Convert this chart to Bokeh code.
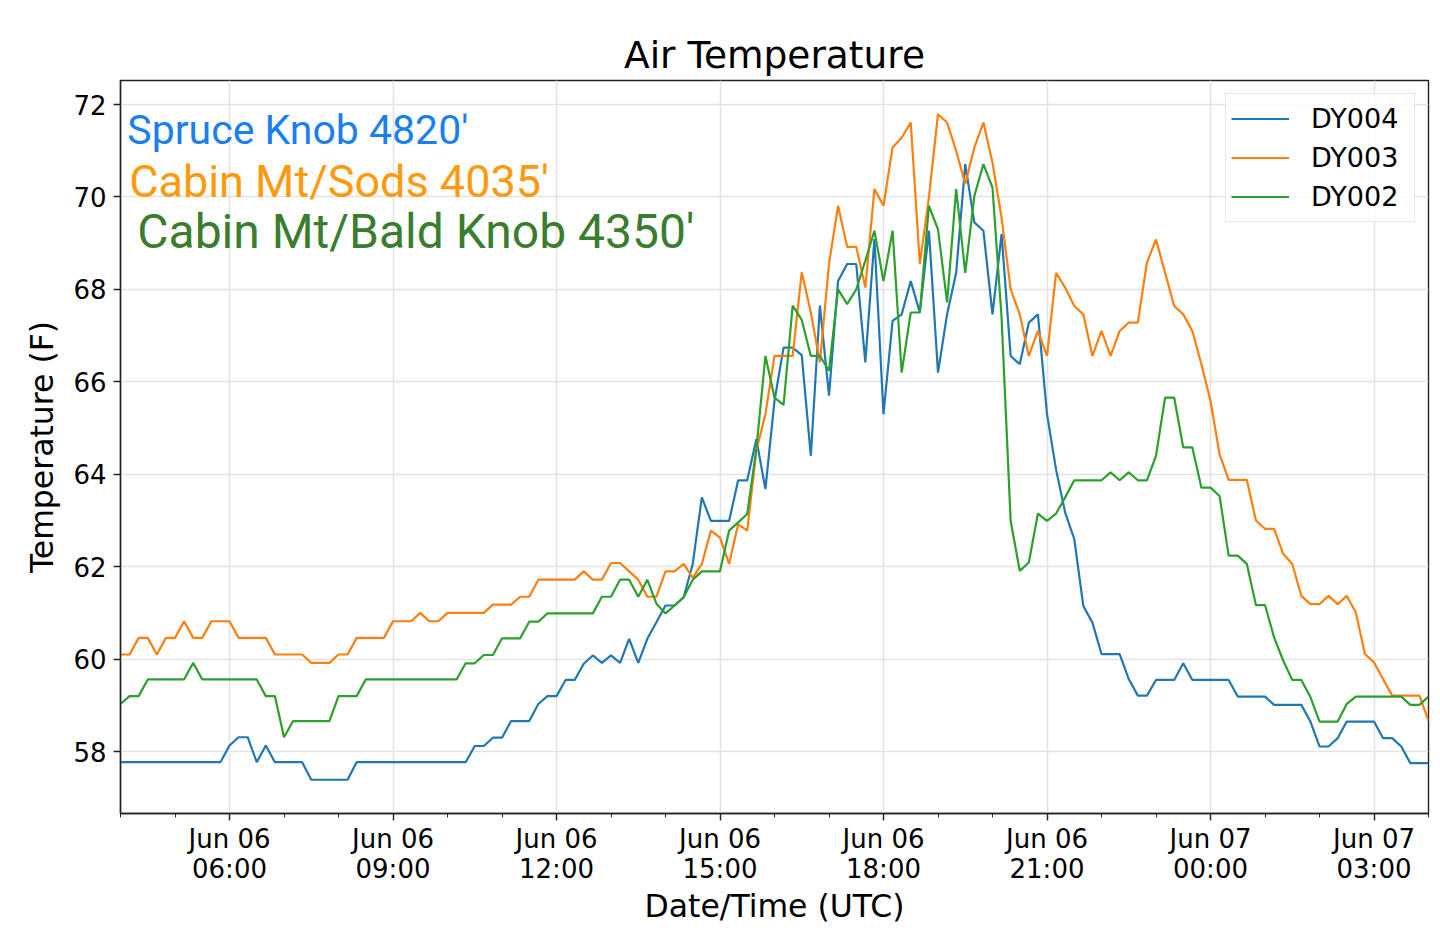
import pandas as pd
from bokeh.plotting import figure
from bokeh.models import (Range1d, FixedTicker, DatetimeTickFormatter, Legend,
                          LegendItem, Label)
from bokeh.embed import file_html
from bokeh.resources import INLINE

# ---------------- data ----------------
times = pd.date_range("2018-06-06 04:00", "2018-06-07 04:00", freq="10min")

dy004 = [
    57.77, 57.77, 57.77, 57.77, 57.77, 57.77, 57.77, 57.77, 57.77, 57.77,
    57.77, 57.77, 58.13, 58.31, 58.31, 57.77, 58.13, 57.77, 57.77, 57.77,
    57.77, 57.39, 57.39, 57.39, 57.39, 57.39, 57.77, 57.77, 57.77, 57.77,
    57.77, 57.77, 57.77, 57.77, 57.77, 57.77, 57.77, 57.77, 57.77, 58.12,
    58.12, 58.30, 58.30, 58.66, 58.66, 58.66, 59.03, 59.20, 59.20, 59.55,
    59.55, 59.90, 60.08, 59.92, 60.08, 59.92, 60.44, 59.92, 60.44, 60.80,
    61.16, 61.16, 61.34, 62.06, 63.50, 62.99, 62.99, 62.99, 63.87, 63.87,
    64.76, 63.68, 65.59, 66.74, 66.74, 66.58, 64.40, 67.65, 65.70, 68.18,
    68.55, 68.55, 66.42, 69.09, 65.30, 67.32, 67.46, 68.18, 67.50, 69.27,
    66.20, 67.46, 68.36, 70.71, 69.45, 69.27, 67.46, 69.20, 66.56, 66.38,
    67.28, 67.46, 65.30, 64.10, 63.17, 62.60, 61.15, 60.79, 60.11, 60.11,
    60.11, 59.57, 59.21, 59.21, 59.55, 59.55, 59.55, 59.91, 59.55, 59.55,
    59.55, 59.55, 59.55, 59.19, 59.19, 59.19, 59.19, 59.01, 59.01, 59.01,
    59.01, 58.65, 58.11, 58.11, 58.29, 58.65, 58.65, 58.65, 58.65, 58.29,
    58.29, 58.11, 57.75, 57.75, 57.75,
]

dy003 = [
    60.10, 60.10, 60.46, 60.46, 60.10, 60.46, 60.46, 60.82, 60.46, 60.46,
    60.82, 60.82, 60.82, 60.46, 60.46, 60.46, 60.46, 60.10, 60.10, 60.10,
    60.10, 59.92, 59.92, 59.92, 60.10, 60.10, 60.46, 60.46, 60.46, 60.46,
    60.82, 60.82, 60.82, 61.00, 60.82, 60.82, 61.00, 61.00, 61.00, 61.00,
    61.00, 61.18, 61.18, 61.18, 61.35, 61.35, 61.72, 61.72, 61.72, 61.72,
    61.72, 61.90, 61.72, 61.72, 62.08, 62.08, 61.90, 61.72, 61.35, 61.35,
    61.90, 61.90, 62.06, 61.76, 62.06, 62.78, 62.63, 62.06, 62.92, 62.78,
    64.51, 65.30, 66.56, 66.56, 66.56, 68.37, 67.50, 66.42, 68.55, 69.81,
    68.92, 68.92, 68.04, 70.17, 69.81, 71.07, 71.28, 71.61, 68.55, 69.99,
    71.79, 71.61, 71.00, 70.28, 71.07, 71.61, 70.74, 69.55, 68.00, 67.46,
    66.56, 67.10, 66.56, 68.36, 68.04, 67.64, 67.46, 66.56, 67.10, 66.56,
    67.10, 67.28, 67.28, 68.58, 69.08, 68.36, 67.64, 67.46, 67.10, 66.38,
    65.59, 64.43, 63.88, 63.88, 63.88, 63.00, 62.82, 62.82, 62.28, 62.06,
    61.37, 61.19, 61.19, 61.37, 61.19, 61.37, 61.01, 60.11, 59.93, 59.57,
    59.21, 59.21, 59.21, 59.21, 58.67,
]

dy002 = [
    59.03, 59.20, 59.20, 59.56, 59.56, 59.56, 59.56, 59.56, 59.92, 59.56,
    59.56, 59.56, 59.56, 59.56, 59.56, 59.56, 59.20, 59.20, 58.31, 58.66,
    58.66, 58.66, 58.66, 58.66, 59.20, 59.20, 59.20, 59.56, 59.56, 59.56,
    59.56, 59.56, 59.56, 59.56, 59.56, 59.56, 59.56, 59.56, 59.91, 59.91,
    60.09, 60.09, 60.45, 60.45, 60.45, 60.81, 60.81, 60.99, 60.99, 60.99,
    60.99, 60.99, 60.99, 61.35, 61.35, 61.72, 61.72, 61.35, 61.72, 61.20,
    60.99, 61.16, 61.34, 61.72, 61.90, 61.90, 61.90, 62.78, 62.96, 63.14,
    64.55, 66.56, 65.66, 65.50, 67.65, 67.34, 66.56, 66.56, 66.24, 68.00,
    67.68, 68.00, 68.62, 69.27, 68.18, 69.27, 66.20, 67.50, 67.50, 69.81,
    69.30, 67.72, 70.17, 68.36, 70.02, 70.71, 70.20, 67.39, 62.99, 61.91,
    62.09, 63.15, 62.99, 63.15, 63.50, 63.87, 63.87, 63.87, 63.87, 64.04,
    63.87, 64.04, 63.87, 63.87, 64.40, 65.66, 65.66, 64.58, 64.58, 63.71,
    63.71, 63.53, 62.24, 62.24, 62.06, 61.17, 61.17, 60.47, 59.97, 59.55,
    59.55, 59.18, 58.65, 58.65, 58.65, 59.03, 59.19, 59.19, 59.19, 59.19,
    59.19, 59.19, 59.01, 59.01, 59.19,
]

series_names = ["DY004", "DY003", "DY002"]
series_values = [dy004, dy003, dy002]
series_colors = ["#1f77b4", "#ff7f0e", "#2ca02c"]

major_tick_times = pd.date_range("2018-06-06 06:00", "2018-06-07 03:00", freq="3h")
minor_tick_times = pd.date_range("2018-06-06 04:00", "2018-06-07 04:00", freq="1h")
y_ticks = [58, 60, 62, 64, 66, 68, 70, 72]
y_limits = (56.66, 72.52)

site_labels = ["Spruce Knob 4820'", "Cabin Mt/Sods 4035'", "Cabin Mt/Bald Knob 4350'"]
site_colors = ["#1a80f0", "#ff990d", "#3a7d2e"]

title_text = "Air Temperature"
x_label = "Date/Time (UTC)"
y_label = "Temperature (F)"

# ---------------- figure ----------------
def ms(t):
    return t.value / 1e6

FONT = "DejaVu Sans"

p = figure(
    x_axis_type="datetime",
    frame_width=1308, frame_height=733,
    min_border_left=120, min_border_right=4,
    min_border_top=80, min_border_bottom=118,
    x_range=Range1d(ms(times[0]), ms(times[-1])),
    y_range=Range1d(*y_limits),
    output_backend="svg", toolbar_location=None,
    background_fill_color="white", border_fill_color="white",
)

p.title.text = title_text
p.title.align = "center"
p.title.text_font = FONT
p.title.text_font_size = "37.5px"
p.title.text_font_style = "normal"
p.title.text_color = "#000000"
p.title.standoff = 7

p.outline_line_color = "#222222"
p.outline_line_width = 1.4
p.outline_line_alpha = 1.0

xs = [t.to_pydatetime() for t in times]
renderers = []
for name, vals, col in zip(series_names, series_values, series_colors):
    r = p.line(xs, vals, line_color=col, line_width=2.2)
    renderers.append(r)

# axes
xt = FixedTicker(ticks=[ms(t) for t in major_tick_times],
                 minor_ticks=[ms(t) for t in minor_tick_times])
p.xaxis.ticker = xt
fmt = "%b %d\n%H:%M"
p.xaxis.formatter = DatetimeTickFormatter(
    microseconds=fmt, milliseconds=fmt, seconds=fmt, minsec=fmt, minutes=fmt,
    hourmin=fmt, hours=fmt, days=fmt, months=fmt, years=fmt)
p.yaxis.ticker = FixedTicker(ticks=y_ticks)

for ax in (p.xaxis[0], p.yaxis[0]):
    ax.axis_line_color = "#222222"
    ax.axis_line_width = 1.4
    ax.major_tick_line_color = "#222222"
    ax.major_tick_line_width = 1.4
    ax.major_tick_in = 0
    ax.major_tick_out = 7
    ax.minor_tick_line_color = "#222222"
    ax.minor_tick_line_width = 1.0
    ax.minor_tick_in = 0
    ax.minor_tick_out = 4
    ax.major_label_text_font = FONT
    ax.major_label_text_font_size = "26px"
    ax.major_label_text_color = "#000000"
    ax.axis_label_text_font = FONT
    ax.axis_label_text_font_size = "31.5px"
    ax.axis_label_text_font_style = "normal"
    ax.axis_label_text_color = "#000000"

p.xaxis.axis_label = x_label
p.yaxis.axis_label = y_label
p.xaxis.major_label_text_line_height = 1.02
p.xaxis.major_label_standoff = 3
p.xaxis.axis_label_standoff = 1
p.yaxis.major_label_standoff = 7
p.yaxis.axis_label_standoff = 10

p.xgrid.grid_line_color = "#e3e3e3"
p.ygrid.grid_line_color = "#e3e3e3"
p.xgrid.grid_line_width = 1.6
p.ygrid.grid_line_width = 1.6

# legend
legend = Legend(
    items=[LegendItem(label=n, renderers=[r]) for n, r in zip(series_names, renderers)],
    location="top_right",
    margin=13, padding=5, spacing=0,
    glyph_width=58, glyph_height=39, label_height=39,
    label_standoff=22, label_width=98,
    label_text_font=FONT, label_text_font_size="27px", label_text_color="#000000",
    border_line_color="#cccccc", border_line_width=1.3,
    background_fill_color="white", background_fill_alpha=0.85,
)
p.add_layout(legend)

# site annotations (text positioned relative to start of the series)
label_specs = [
    (7.5, 71.44, "41px"),
    (9.5, 70.34, "45px"),
    (18.5, 69.25, "48px"),
]
for text, col, (mins, yv, size) in zip(site_labels, site_colors, label_specs):
    p.add_layout(Label(
        x=ms(times[0] + pd.Timedelta(minutes=mins)), y=yv, text=text,
        text_color=col, text_font="Roboto", text_font_size=size,
        text_baseline="alphabetic", text_align="left",
    ))

open("out.html", "w").write(file_html(p, INLINE))
